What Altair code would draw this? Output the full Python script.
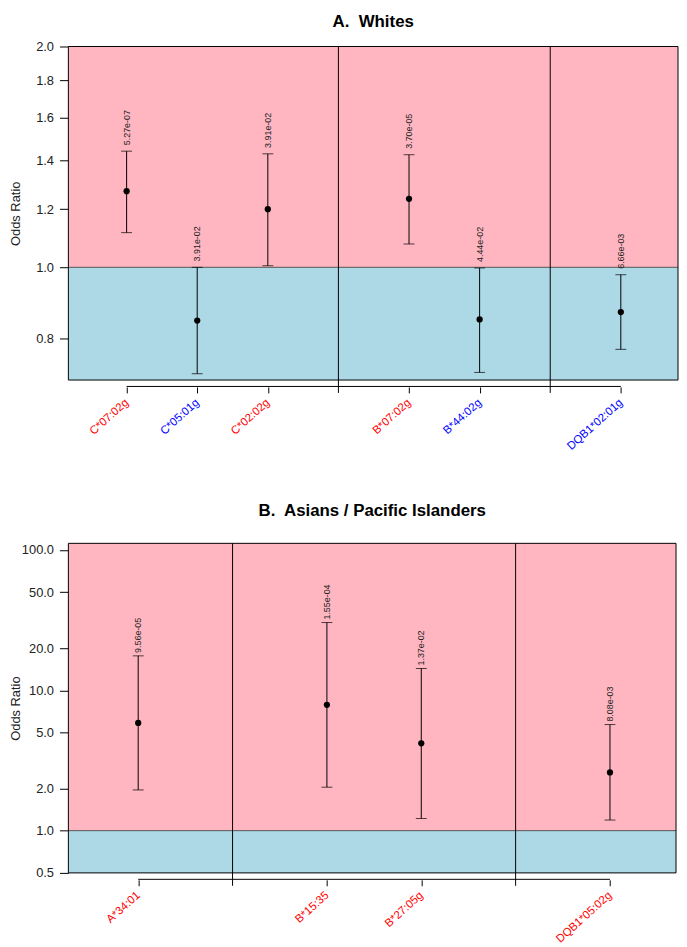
import altair as alt
import pandas as pd

# ---------------- Panel A: Whites ----------------
a_alleles = ["C*07:02g", "C*05:01g", "C*02:02g", "B*07:02g", "B*44:02g", "DQB1*02:01g"]
a_genes = ["C", "C", "C", "B", "B", "DQB1"]
a_or = [1.27, 0.846, 1.20, 1.24, 0.849, 0.869]
a_lo = [1.115, 0.716, 1.005, 1.076, 0.719, 0.773]
a_hi = [1.44, 1.0, 1.428, 1.424, 0.998, 0.977]
a_p = ["5.27e-07", "3.91e-02", "3.91e-02", "3.70e-05", "4.44e-02", "6.66e-03"]
a_yticks = [0.8, 1.0, 1.2, 1.4, 1.6, 1.8, 2.0]

# ---------------- Panel B: Asians / Pacific Islanders ----------------
b_alleles = ["A*34:01", "B*15:35", "B*27:05g", "DQB1*05:02g"]
b_genes = ["A", "B", "B", "DQB1"]
b_or = [5.85, 7.88, 4.19, 2.6]
b_lo = [1.95, 2.04, 1.22, 1.19]
b_hi = [17.6, 30.4, 14.3, 5.7]
b_p = ["9.56e-05", "1.55e-04", "1.37e-02", "8.08e-03"]
b_yticks = [0.5, 1.0, 2.0, 5.0, 10.0, 20.0, 50.0, 100.0]

FONT = "Liberation Sans"
PINK = "#FFB6C1"
BLUE = "#ADD8E6"


def slots(genes):
    pos, seps, cur, prev = [], [], 0, None
    for g in genes:
        if prev is not None and g != prev:
            cur += 1
            seps.append(cur)
        cur += 1
        pos.append(cur)
        prev = g
    return pos, seps


def panel(title, alleles, genes, orv, lo, hi, pv, yticks, xdom, ydom, w, h, pdx, toff):
    pos, seps = slots(genes)
    df = pd.DataFrame({"allele": alleles, "pos": pos, "or": orv, "lo": lo, "hi": hi, "p": pv})
    one = pd.DataFrame({"k": [0]})
    sep_df = pd.DataFrame({"sep": seps})

    xs = alt.Scale(domain=xdom, nice=False, zero=False)
    ys = alt.Scale(type="log", domain=ydom, nice=False, zero=False)

    label_expr = " : ".join(f"datum.value == {p} ? '{a}'" for p, a in zip(pos, alleles)) + " : ''"
    blue_terms = [f"datum.value == {p}" for p, v in zip(pos, orv) if v <= 1]
    blue_test = " || ".join(blue_terms) if blue_terms else "false"

    xaxis = alt.Axis(
        values=pos, labelExpr=label_expr,
        labelColor={"condition": {"test": blue_test, "value": "blue"}, "value": "red"},
        labelAngle=-42, labelAlign="right", labelBaseline="middle",
        labelFontSize=11.5, labelFont=FONT, labelPadding=8,
        tickSize=6, tickColor="black", offset=7, domain=False, grid=False,
        title=None, labelOverlap=False, labelFlush=False,
    )
    yaxis = alt.Axis(
        values=yticks, format=".1f", title="Odds Ratio", grid=False,
        tickSize=9, tickColor="black", labelPadding=6, labelFontSize=13, labelFont=FONT,
        labelColor="#222222", titleFontSize=13, titleFont=FONT, titleFontWeight="normal",
        titleColor="#222222", minExtent=44, maxExtent=44, titlePadding=2, domain=False,
    )

    def X(v):
        return alt.datum(v, scale=xs, axis=xaxis)

    def Y(v):
        return alt.datum(v, scale=ys, axis=yaxis)

    def XF(f):
        return alt.X(f, type="quantitative", scale=xs, axis=xaxis)

    def YF(f):
        return alt.Y(f, type="quantitative", scale=ys, axis=yaxis)

    bg_pink = alt.Chart(one).mark_rect(color=PINK).encode(
        x=X(xdom[0]), x2=alt.datum(xdom[1]), y=Y(1.0), y2=alt.datum(ydom[1]))
    bg_blue = alt.Chart(one).mark_rect(color=BLUE).encode(
        x=X(xdom[0]), x2=alt.datum(xdom[1]), y=Y(ydom[0]), y2=alt.datum(1.0))
    sep_rules = alt.Chart(sep_df).mark_rule(color="black", strokeWidth=1).encode(
        x=XF("sep"), y=Y(ydom[1]), y2=alt.value(h + 13))
    one_line = alt.Chart(one).mark_rule(color="#555555", strokeWidth=1).encode(
        x=X(xdom[0]), x2=alt.datum(xdom[1]), y=Y(1.0))
    bars = alt.Chart(df).mark_rule(color="black", strokeWidth=1).encode(
        x=XF("pos"), y=YF("lo"), y2="hi:Q")
    cap_lo = alt.Chart(df).mark_tick(color="black", orient="horizontal", size=11, thickness=1).encode(
        x=XF("pos"), y=YF("lo"))
    cap_hi = alt.Chart(df).mark_tick(color="black", orient="horizontal", size=11, thickness=1).encode(
        x=XF("pos"), y=YF("hi"))
    points = alt.Chart(df).mark_point(filled=True, color="black", size=40, opacity=1).encode(
        x=XF("pos"), y=YF("or"))
    ptext = alt.Chart(df).mark_text(angle=270, align="left", baseline="middle", dx=pdx,
                                    fontSize=9, font=FONT, color="#222222").encode(
        x=XF("pos"), y=YF("hi"), text="p:N")
    frame = alt.Chart(one).mark_rect(fillOpacity=0, stroke="black", strokeWidth=1).encode(
        x=X(xdom[0]), x2=alt.datum(xdom[1]), y=Y(ydom[0]), y2=alt.datum(ydom[1]))
    axis_line = alt.Chart(one).mark_rule(color="black", strokeWidth=1).encode(
        x=X(pos[0]), x2=alt.datum(pos[-1]), y=alt.value(h + 6.5))

    return alt.layer(bg_pink, bg_blue, one_line, sep_rules, bars, cap_lo, cap_hi, points,
                     ptext, frame, axis_line).properties(
        width=w, height=h,
        title=alt.TitleParams(title, fontSize=17, font=FONT, fontWeight="bold",
                              anchor="middle", offset=toff, color="black"),
    )


top = panel("A.\u00a0 Whites", a_alleles, a_genes, a_or, a_lo, a_hi, a_p, a_yticks,
            [0.175, 8.81], [0.702, 2.0], 616, 337, 6, 10)
bottom = panel("B.\u00a0 Asians / Pacific Islanders", b_alleles, b_genes, b_or, b_lo, b_hi, b_p,
               b_yticks, [0.26, 6.70], [0.5, 111.5], 614, 333, 3, 23)

chart = alt.vconcat(top, bottom, spacing=165, bounds="flush").properties(
    padding={"left": 2, "top": 0, "right": 0, "bottom": 0}).configure_view(stroke=None)

chart.save("out.html", embed_options={"renderer": "svg", "actions": False})
